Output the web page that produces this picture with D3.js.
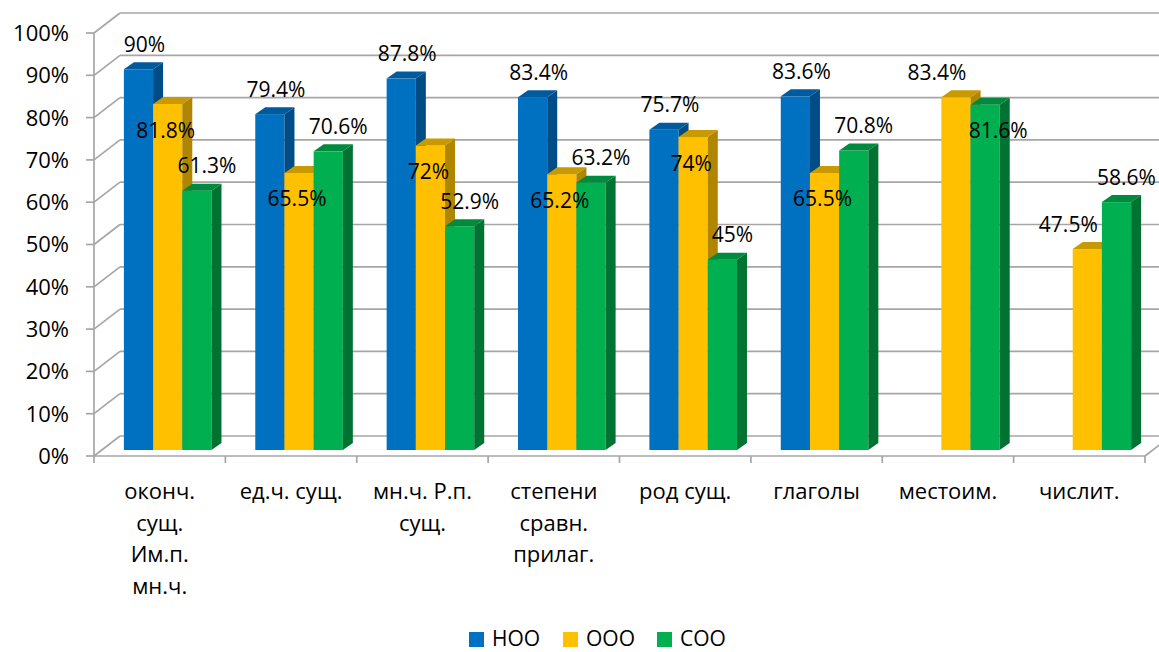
<!DOCTYPE html>
<html>
<head>
<meta charset="utf-8">
<script src="https://cdn.jsdelivr.net/npm/d3@7"></script>
<style>
  html, body { margin: 0; padding: 0; background: #fff; }
  svg { display: block; font-family: "Open Sans", "Noto Sans", sans-serif; }
</style>
</head>
<body>
<svg id="chart" width="1159" height="652"></svg>
<script>
const categories = [
  "оконч.\nсущ.\nИм.п.\nмн.ч.",
  "ед.ч. сущ.",
  "мн.ч. Р.п.\nсущ.",
  "степени\nсравн.\nприлаг.",
  "род сущ.",
  "глаголы",
  "местоим.",
  "числит."
];
const seriesNames = ["НОО", "ООО", "СОО"];
const valuesNOO = [90, 79.4, 87.8, 83.4, 75.7, 83.6, null, null];
const valuesOOO = [81.8, 65.5, 72, 65.2, 74, 65.5, 83.4, 47.5];
const valuesCOO = [61.3, 70.6, 52.9, 63.2, 45, 70.8, 81.6, 58.6];
const yTicks = [0, 10, 20, 30, 40, 50, 60, 70, 80, 90, 100];
const tickLabels = yTicks.map(t => t + "%");

const seriesValues = [valuesNOO, valuesOOO, valuesCOO];
const colors = [
  { front: "#0070C0", top: "#005A9E", side: "#004C86" },
  { front: "#FFC000", top: "#C99A00", side: "#B08600" },
  { front: "#00B050", top: "#008A3E", side: "#007332" }
];

const W = 1159, H = 652;
const svg = d3.select("#chart");

// geometry
const axisX = 94, axisRight = 1145;
const y = d3.scaleLinear().domain([0, 100]).range([456, 33]);
const backDX = 26, backDY = -20;          // depth of the back wall
const planeDX = 8, planeDY = -6;          // bars' front plane
const depthDX = 10, depthDY = -7;         // bar depth

const x = d3.scaleBand().domain(categories).range([axisX, axisRight]).paddingInner(0).paddingOuter(0);
const xs = d3.scaleBand().domain(seriesNames).range([0, x.bandwidth()]).paddingInner(0).paddingOuter(0.75);

const grid = "#A6A6A6";
const g = svg.append("g");

// back wall gridlines
g.selectAll("line.back").data(yTicks).join("line")
  .attr("x1", axisX + backDX).attr("x2", W + 20)
  .attr("y1", d => y(d) + backDY).attr("y2", d => y(d) + backDY)
  .attr("stroke", grid).attr("stroke-width", 1.7);
// side wall diagonals
g.selectAll("line.side").data(yTicks).join("line")
  .attr("x1", axisX).attr("x2", axisX + backDX)
  .attr("y1", d => y(d)).attr("y2", d => y(d) + backDY)
  .attr("stroke", grid).attr("stroke-width", 1.7);
// vertical axis
g.append("line").attr("x1", axisX).attr("x2", axisX)
  .attr("y1", y(0)).attr("y2", y(100)).attr("stroke", grid).attr("stroke-width", 1.7);
// y ticks
g.selectAll("line.yt").data(yTicks).join("line")
  .attr("x1", axisX - 8).attr("x2", axisX)
  .attr("y1", d => y(d)).attr("y2", d => y(d))
  .attr("stroke", grid).attr("stroke-width", 1.7);
// floor front edge and right edge
g.append("line").attr("x1", axisX).attr("x2", axisRight)
  .attr("y1", y(0)).attr("y2", y(0)).attr("stroke", grid).attr("stroke-width", 1.7);
g.append("line").attr("x1", axisRight).attr("x2", axisRight + backDX)
  .attr("y1", y(0)).attr("y2", y(0) + backDY).attr("stroke", grid).attr("stroke-width", 1.7);
// category ticks
const catEdges = categories.map(c => x(c)).concat([axisRight]);
g.selectAll("line.xt").data(catEdges).join("line")
  .attr("x1", d => d).attr("x2", d => d)
  .attr("y1", y(0)).attr("y2", y(0) + 7)
  .attr("stroke", grid).attr("stroke-width", 1.7);

// y tick labels
svg.append("g").selectAll("text").data(yTicks).join("text")
  .attr("x", 69).attr("y", d => y(d))
  .attr("dy", "0.36em").attr("text-anchor", "end")
  .attr("font-size", 22).attr("fill", "#000")
  .text((d, i) => tickLabels[i]);

// bars
const bars = [];
categories.forEach((c, ci) => {
  seriesNames.forEach((s, si) => {
    const v = seriesValues[si][ci];
    if (v == null) return;
    bars.push({ c, ci, s, si, v });
  });
});
const bg = svg.append("g");
bars.forEach(b => {
  const x0 = x(b.c) + xs(b.s) + planeDX;
  const x1 = x0 + xs.bandwidth();
  const yt = y(b.v) + planeDY;
  const yb = y(0) + planeDY;
  const col = colors[b.si];
  bg.append("rect").attr("x", x0).attr("y", yt).attr("width", x1 - x0).attr("height", yb - yt)
    .attr("fill", col.front);
  bg.append("polygon")
    .attr("points", [[x0, yt], [x0 + depthDX, yt + depthDY], [x1 + depthDX, yt + depthDY], [x1, yt]].join(" "))
    .attr("fill", col.top);
  bg.append("polygon")
    .attr("points", [[x1, yt], [x1 + depthDX, yt + depthDY], [x1 + depthDX, yb + depthDY], [x1, yb]].join(" "))
    .attr("fill", col.side);
});

// data labels
const lg = svg.append("g");
categories.forEach((c, ci) => {
  const present = bars.filter(b => b.ci === ci);
  present.forEach((b, k) => {
    const inside = k === 1 && b.v < present[0].v;
    const cx = x(b.c) + xs(b.s) + xs.bandwidth() / 2;
    let dx, dy;
    if (inside) { dx = b.si === 1 ? 6 : 21; dy = 26; }
    else { dx = b.si === 0 ? 14 : (b.si === 1 ? -11 : 18); dy = -25; }
    lg.append("text")
      .attr("x", cx + dx).attr("y", y(b.v) + planeDY + dy)
      .attr("dy", "0.36em").attr("text-anchor", "middle")
      .attr("font-size", 21).attr("fill", "#000")
      .text(b.v + "%");
  });
});

// category labels
const cg = svg.append("g");
categories.forEach(c => {
  const t = cg.append("text")
    .attr("x", x(c) + x.bandwidth() / 2).attr("y", 499)
    .attr("text-anchor", "middle").attr("font-size", 22).attr("fill", "#000");
  c.split("\n").forEach((line, i) => {
    t.append("tspan").attr("x", x(c) + x.bandwidth() / 2).attr("y", 499 + i * 31.5).text(line);
  });
});

// legend
const legend = svg.append("g");
seriesNames.forEach((s, i) => {
  const lx = 469 + i * 94;
  legend.append("rect").attr("x", lx).attr("y", 632).attr("width", 15).attr("height", 15)
    .attr("fill", colors[i].front);
  legend.append("text").attr("x", lx + 23).attr("y", 646)
    .attr("font-size", 21).attr("fill", "#000").text(s);
});
</script>
</body>
</html>
